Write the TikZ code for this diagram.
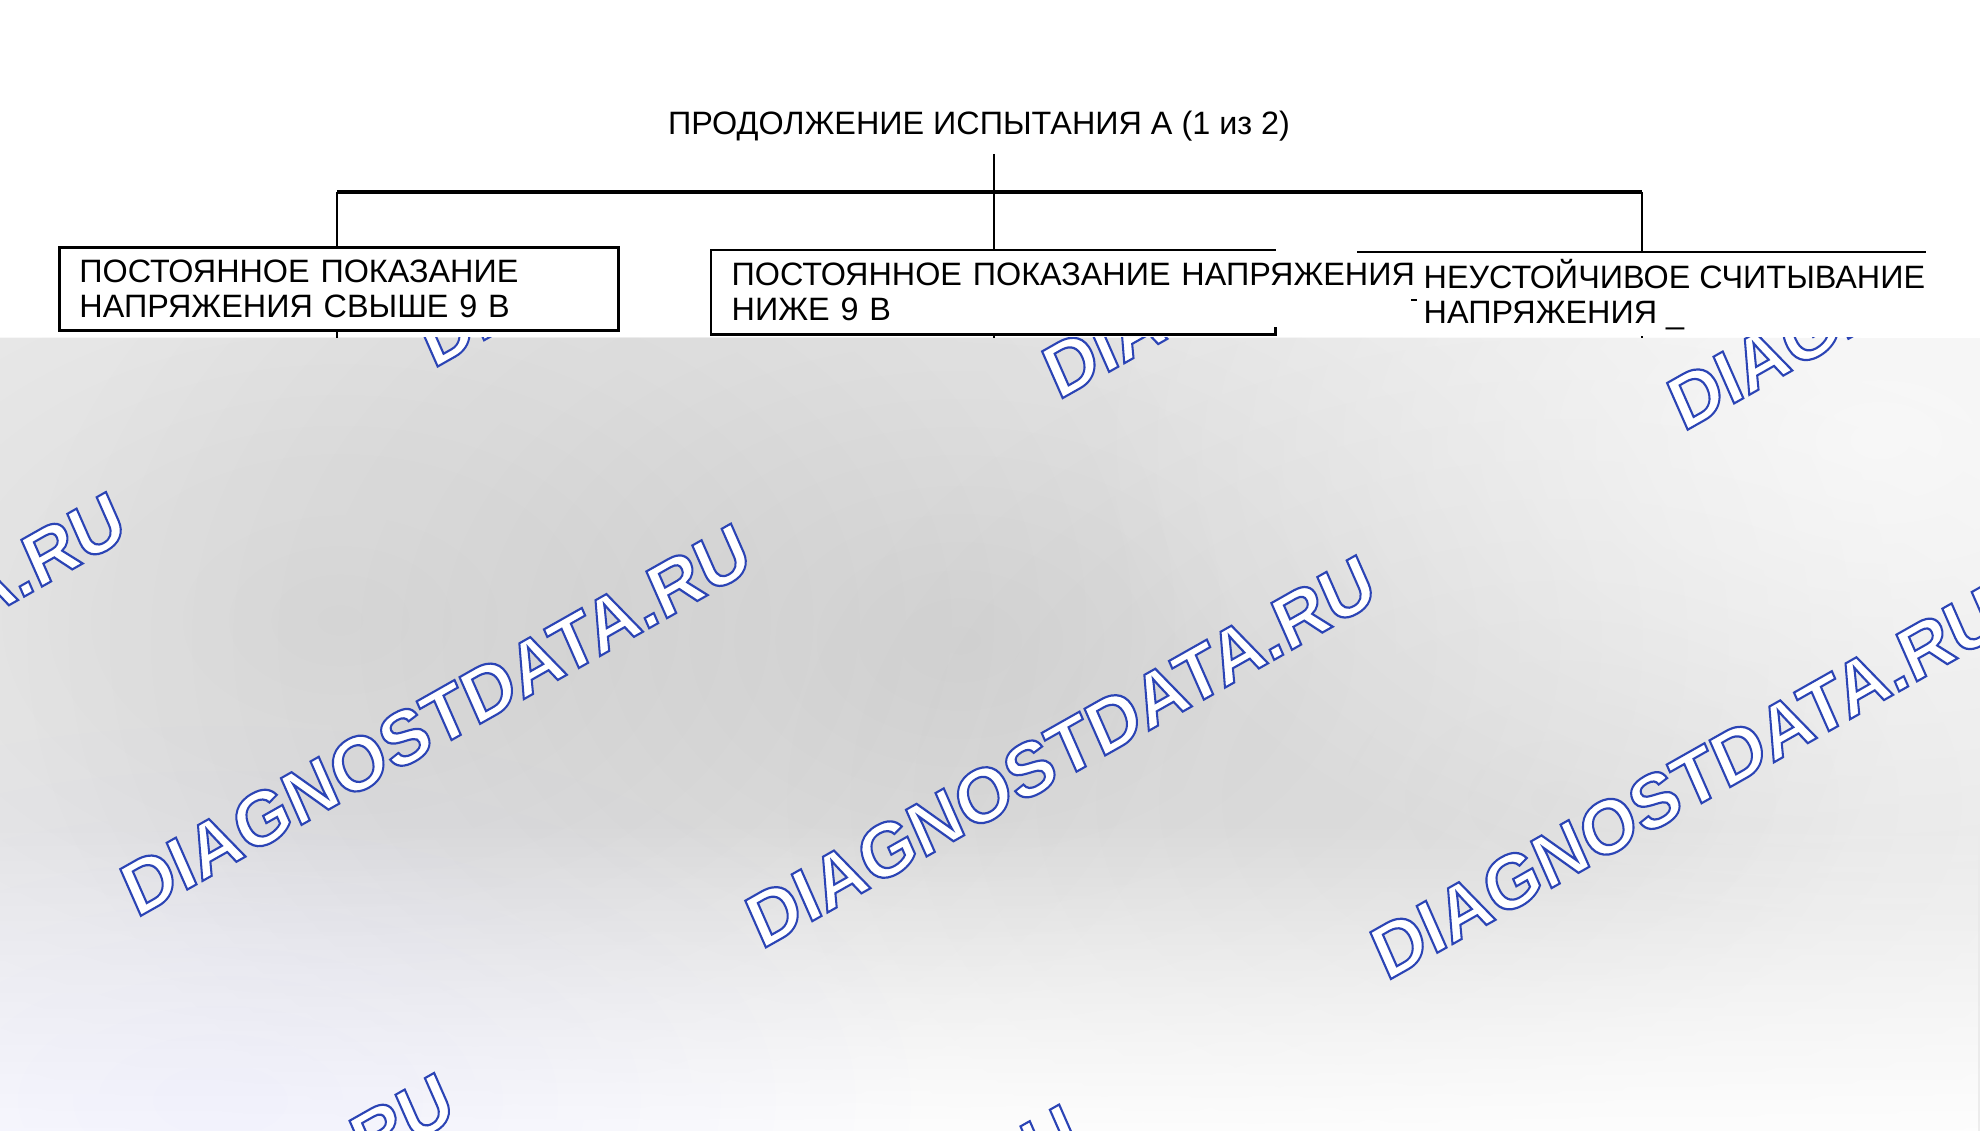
\documentclass[tikz,border=0pt]{standalone}
\usepackage{fontspec}
\setmainfont{Liberation Sans}
\usetikzlibrary{fadings}
\definecolor{wmblue}{HTML}{2B44B5}
\definecolor{greybg}{HTML}{EFEFEF}
\tikzstyle{wire} = [draw, line width=0.6pt]
\tikzstyle{bus} = [draw, line width=1.3pt]
\tikzstyle{frame} = [draw, line width=0.8pt]
\tikzstyle{box} = [rectangle, anchor=north west, align=left, inner xsep=0.2cm, inner ysep=0pt, minimum height=0.83cm, font=\fontsize{9.2}{10}\selectfont]
\tikzstyle{heading} = [font=\fontsize{9.2}{10}\selectfont, inner xsep=0pt, inner ysep=0.12cm]
\tikzstyle{wmark} = [font=\fontsize{21}{21}\selectfont\bfseries, text=wmblue, inner sep=0pt, rotate=29.5, xslant=0.1]
\tikzfading[name=blob, inner color=transparent!0, outer color=transparent!100]
\tikzfading[name=fadeup, top color=transparent!100, bottom color=transparent!0]
\newcommand\outlined[1]{\special{pdf:literal direct 2 Tr 0.6 w 1 1 1 rg}#1\special{pdf:literal direct 0 Tr}}

\begin{document}
\begin{tikzpicture}[x=0.01cm, y=-0.01cm]
    \useasboundingbox (0,0) rectangle (1980,1131);
    \fill[white] (0,0) rectangle (1980,338);
    % grey backdrop with soft patches
    \begin{scope}
        \clip (0,338) rectangle (1980,1131);
        \fill[greybg] (0,338) rectangle (1980,1131);
        \fill[black, opacity=0.08, path fading=blob] (340,620) ellipse [x radius=900, y radius=600];
        \fill[black, opacity=0.09, path fading=blob] (960,640) ellipse [x radius=950, y radius=650];
        \fill[black, opacity=0.05, path fading=blob] (1560,800) ellipse [x radius=800, y radius=520];
        \fill[white, opacity=0.6, path fading=blob] (1880,440) ellipse [x radius=800, y radius=500];
        \fill[white, opacity=0.9, path fading=fadeup] (0,820) rectangle (1980,1131);
        \fill[blue!40, opacity=0.10, path fading=blob] (220,1100) ellipse [x radius=700, y radius=380];
        % watermarks
        \foreach \i in {-1,...,3} \foreach \j in {-1,0,1} {
            \node[wmark] (wm\i\j) at ({435.7+625*\i+296.8*\j}, {719.8+31.6*\i-549.3*\j}) {\outlined{DIAGNOSTDATA.RU}};
        }
    \end{scope}
    % chart
    \node[heading] (title) at (979,126) {ПРОДОЛЖЕНИЕ ИСПЫТАНИЯ А (1 из 2)};
    \node[box, frame, minimum width=5.59cm, text width=5.19cm] (high) at (58,246) {ПОСТОЯННОЕ ПОКАЗАНИЕ\\НАПРЯЖЕНИЯ СВЫШЕ 9 В};
    \node[box, minimum width=5.63cm, text width=5.23cm] (low) at (711,250) {\mbox{ПОСТОЯННОЕ ПОКАЗАНИЕ НАПРЯЖЕНИЯ}\\НИЖЕ 9 В};
    \node[box, inner xsep=0pt] (unstable) at (1423,252) {НЕУСТОЙЧИВОЕ СЧИТЫВАНИЕ\\НАПРЯЖЕНИЯ \_};
    \coordinate (cap) at (1357,252);
    \coordinate (hub) at (994,192);
    \coordinate (left) at (337,192);
    \coordinate (right) at (1642,192);
    \coordinate (edge) at (0,338);
    \draw[frame] (low.north east) -- (low.north west) -- (low.south west) -- (low.south east) -- ++(0,-7);
    \draw[frame] (cap) -- (cap -| unstable.east);
    \draw[wire] (1411,300) -- (1417,300);
    \path[wire] (title.south -| hub) -- (hub);
    \path[bus] (left) -- (right);
    \path[wire] (left) -- (left |- high.north);
    \path[wire] (hub) -- (hub |- low.north);
    \path[wire] (right) -- (right |- cap);
    \path[wire] (left |- high.south) -- (left |- edge);
    \path[wire] (hub |- low.south) -- (hub |- edge);
    \path[wire] (right |- unstable.south) -- (right |- edge);
\end{tikzpicture}
\end{document}
